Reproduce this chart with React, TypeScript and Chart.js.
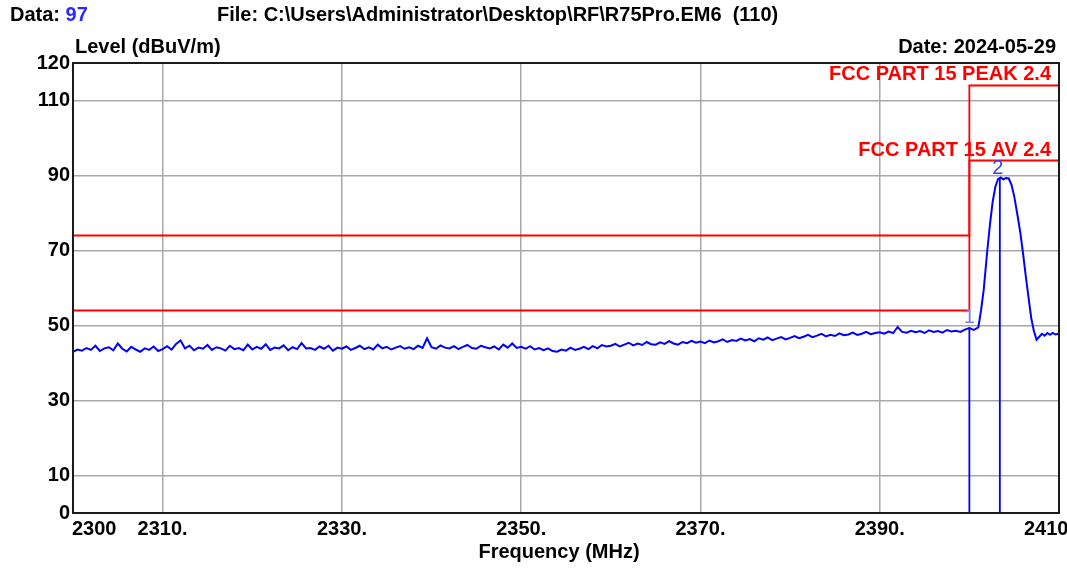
import React, { useEffect, useRef } from 'react';
import { Chart, registerables } from 'chart.js';

Chart.register(...registerables);

const FONT = '"Liberation Sans", Arial, Helvetica, sans-serif';

// Header texts
const dataLabel = 'Data: ';
const dataNumber = '97';
const fileLabel = 'File: C:\\Users\\Administrator\\Desktop\\RF\\R75Pro.EM6  (110)';
const yTitle = 'Level (dBuV/m)';
const dateLabel = 'Date: 2024-05-29';
const xTitle = 'Frequency (MHz)';

// Axis ticks
const xTickValues = [2300, 2310, 2330, 2350, 2370, 2390, 2410];
const xTickLabels = ['2300', '2310.', '2330.', '2350.', '2370.', '2390.', '2410'];
const yTickValues = [0, 10, 30, 50, 70, 90, 110, 120];

// Measured trace: noise floor 2300 - 2399.5 MHz, 0.5 MHz per reading
const noiseStart = 2300;
const noiseStep = 0.5;
const noiseLevels = [
  43.0, 43.6, 43.3, 44.0, 43.5, 44.6, 43.2, 43.9, 44.2, 43.4, 45.2, 43.8, 43.1, 44.3, 43.6, 43.0, 43.9, 43.5, 44.4, 43.2,
  43.7, 44.5, 43.6, 45.1, 46.0, 43.9, 44.6, 43.4, 44.1, 43.8, 44.8, 43.5, 44.2, 43.9, 43.3, 44.6, 43.7, 44.0, 43.4, 44.9,
  43.6, 44.3, 43.8, 45.0, 43.5, 44.1, 43.9, 44.7, 43.4, 44.2, 43.7, 45.3, 43.9, 44.0, 43.5, 44.4, 43.8, 44.6, 43.3, 44.1,
  43.8, 44.4, 43.5, 44.0, 44.6, 43.7, 44.2, 43.6, 44.9, 43.9, 44.3, 43.6, 44.1, 44.5, 43.8, 44.2, 43.7, 44.6, 44.0, 46.6,
  44.2, 43.8, 44.7, 44.1, 43.9, 44.5, 43.7, 44.3, 44.8, 44.0, 43.8, 44.6, 44.2, 43.9, 44.4, 43.6, 44.9, 44.1, 45.2, 44.0,
  44.3, 43.8, 44.5, 43.6, 44.0, 43.4, 43.9, 43.2, 43.0, 43.6, 43.3, 44.1, 43.5, 43.8, 44.3, 43.7, 44.5, 43.9, 44.8, 44.4,
  44.6, 45.1, 44.4, 44.9, 45.4, 44.7, 45.2, 44.8, 45.6, 45.0, 44.9, 45.5, 45.1, 45.8, 45.2, 44.9, 45.6, 45.3, 45.9, 45.4,
  45.7, 45.3, 46.0, 45.5, 45.8, 46.3, 45.6, 46.1, 45.9, 46.5, 46.0, 46.4, 45.8, 46.6, 46.2, 46.8, 46.1, 46.5, 46.9, 46.3,
  46.7, 47.2, 46.6, 47.0, 47.5, 46.9, 47.3, 47.8, 47.1, 47.5, 47.2, 47.9, 47.4, 47.6, 48.1, 47.5, 47.8, 48.3, 47.7, 48.0,
  48.2, 47.8, 48.4, 48.0, 49.6, 48.3, 48.1, 48.6, 48.2, 48.5, 48.0, 48.7, 48.3, 48.5, 48.1, 48.8, 48.4, 48.6, 48.3, 48.9,
];

// Measured trace: carrier region 2400 - 2410 MHz
const peakFreqs = [
  2400.0, 2400.5, 2401.0, 2401.3, 2401.6, 2402.0, 2402.3, 2402.6, 2402.9, 2403.2, 2403.5, 2403.8, 2404.1, 2404.4,
  2404.7, 2405.0, 2405.4, 2405.7, 2406.0, 2406.3, 2406.6, 2406.9, 2407.2, 2407.5, 2407.8, 2408.1, 2408.4, 2408.7,
  2409.0, 2409.3, 2409.6, 2410.0,
];
const peakLevels = [
  49.3, 48.8, 49.5, 54.0, 59.5, 70.0, 77.0, 83.0, 87.0, 89.0, 89.5, 89.0, 89.3, 89.2,
  87.5, 84.5, 79.0, 74.5, 69.0, 63.0, 57.5, 52.0, 48.5, 46.2, 47.0, 47.8, 47.3, 48.0,
  47.5, 48.0, 47.6, 47.8,
];

// Limit lines
const peakLimitName = 'FCC PART 15 PEAK 2.4';
const peakLimitFreqs = [2300, 2400, 2400, 2410];
const peakLimitLevels = [74, 74, 114, 114];
const avLimitName = 'FCC PART 15 AV 2.4';
const avLimitFreqs = [2300, 2400, 2400, 2410];
const avLimitLevels = [54, 54, 94, 94];

// Markers
const markerNames = ['1', '2'];
const markerFreqs = [2400, 2403.4];
const markerLevels = [49.5, 89.4];

const toPoints = (xs: number[], ys: number[]) => xs.map((x, i) => ({ x, y: ys[i] }));

export default function App() {
  const canvasRef = useRef<HTMLCanvasElement | null>(null);

  useEffect(() => {
    const canvas = canvasRef.current;
    if (!canvas) return;

    const tracePoints = [
      ...noiseLevels.map((y, i) => ({ x: noiseStart + i * noiseStep, y })),
      ...toPoints(peakFreqs, peakLevels),
    ];

    const textPlugin = {
      id: 'emcText',
      afterDraw(chart: any) {
        const { ctx, chartArea, scales } = chart;
        const xs = scales.x;
        const ys = scales.y;
        ctx.save();
        // frame
        ctx.strokeStyle = '#1a1a1a';
        ctx.lineWidth = 2;
        ctx.strokeRect(chartArea.left, chartArea.top, chartArea.right - chartArea.left, chartArea.bottom - chartArea.top);

        ctx.textBaseline = 'alphabetic';
        ctx.font = `bold 20px ${FONT}`;
        ctx.fillStyle = '#000';
        ctx.textAlign = 'left';
        ctx.fillText(dataLabel, 10, 21);
        const w = ctx.measureText(dataLabel).width;
        ctx.fillStyle = '#2a2aff';
        ctx.fillText(dataNumber, 10 + w, 21);
        ctx.fillStyle = '#000';
        ctx.fillText(fileLabel, 217, 21);
        ctx.fillText(yTitle, 75, 53);
        ctx.textAlign = 'right';
        ctx.fillText(dateLabel, 1056, 53);

        // x tick labels
        xTickValues.forEach((v, i) => {
          const px = xs.getPixelForValue(v);
          if (i === 0) {
            ctx.textAlign = 'left';
            ctx.fillText(xTickLabels[i], px - 1, 535);
          } else if (i === xTickValues.length - 1) {
            ctx.textAlign = 'left';
            ctx.fillText(xTickLabels[i], px - 35, 535);
          } else {
            ctx.textAlign = 'center';
            ctx.fillText(xTickLabels[i], px, 535);
          }
        });
        ctx.textAlign = 'center';
        ctx.fillText(xTitle, 559, 558);

        // limit labels
        ctx.fillStyle = '#ff0000';
        ctx.textAlign = 'right';
        ctx.fillText(peakLimitName, chartArea.right - 8, ys.getPixelForValue(peakLimitLevels[3]) - 6);
        ctx.fillText(avLimitName, chartArea.right - 8, ys.getPixelForValue(avLimitLevels[3]) - 5);

        // marker labels
        ctx.font = `20px ${FONT}`;
        ctx.textAlign = 'center';
        const markerColors = ['#7a7aff', '#3c3cff'];
        markerNames.forEach((n, i) => {
          ctx.fillStyle = markerColors[i];
          ctx.fillText(n, xs.getPixelForValue(markerFreqs[i]) + (i === 0 ? 0 : -2), ys.getPixelForValue(markerLevels[i]) - 4);
        });
        ctx.restore();
      },
    };

    const chart = new Chart(canvas, {
      type: 'line',
      data: {
        datasets: [
          {
            data: tracePoints,
            borderColor: '#0000ff',
            borderWidth: 2,
            pointRadius: 0,
            tension: 0,
          },
          {
            data: toPoints(peakLimitFreqs, peakLimitLevels),
            borderColor: '#ff0000',
            borderWidth: 1.8,
            pointRadius: 0,
          },
          {
            data: toPoints(avLimitFreqs, avLimitLevels),
            borderColor: '#ff0000',
            borderWidth: 1.8,
            pointRadius: 0,
          },
          {
            data: [
              { x: markerFreqs[0], y: 0 },
              { x: markerFreqs[0], y: markerLevels[0] },
            ],
            borderColor: '#0000ff',
            borderWidth: 1.8,
            pointRadius: 0,
          },
          {
            data: [
              { x: markerFreqs[1], y: 0 },
              { x: markerFreqs[1], y: markerLevels[1] },
            ],
            borderColor: '#0000ff',
            borderWidth: 1.8,
            pointRadius: 0,
          },
        ],
      },
      options: {
        animation: false,
        responsive: false,
        maintainAspectRatio: false,
        parsing: true,
        layout: { padding: { top: 63, right: 8, left: 0, bottom: 0 } },
        plugins: {
          legend: { display: false },
          tooltip: { enabled: false },
        },
        scales: {
          x: {
            type: 'linear',
            min: 2300,
            max: 2410,
            afterBuildTicks: (scale: any) => {
              scale.ticks = xTickValues.map((value) => ({ value }));
            },
            afterFit: (scale: any) => {
              scale.height = 55;
            },
            ticks: { display: false },
            grid: { color: '#a8a8a8', lineWidth: 1.5, drawTicks: false },
            border: { display: false },
          },
          y: {
            type: 'linear',
            min: 0,
            max: 120,
            afterBuildTicks: (scale: any) => {
              scale.ticks = yTickValues.map((value) => ({ value }));
            },
            afterFit: (scale: any) => {
              scale.width = 73;
            },
            ticks: {
              autoSkip: false,
              padding: 3,
              color: '#000',
              font: { family: FONT, size: 20, weight: 'bold' },
            },
            grid: { color: '#a8a8a8', lineWidth: 1.5, drawTicks: false },
            border: { display: false },
          },
        },
      },
      plugins: [textPlugin],
    } as any);

    return () => chart.destroy();
  }, []);

  return (
    <div style={{ position: 'fixed', left: 0, top: 0, width: 1067, height: 568, background: '#fff' }}>
      <canvas ref={canvasRef} width={1067} height={568} style={{ display: 'block' }} />
    </div>
  );
}
